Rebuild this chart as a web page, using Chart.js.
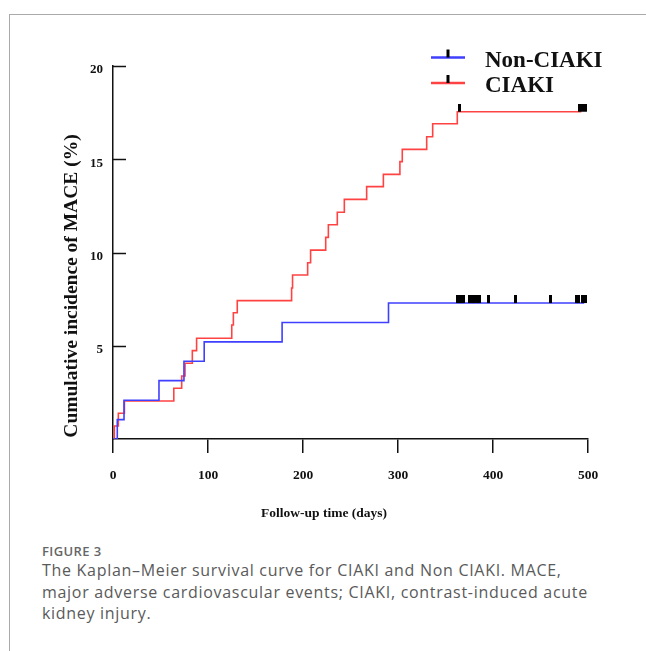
<!DOCTYPE html>
<html>
<head>
<meta charset="utf-8">
<title>Kaplan-Meier MACE</title>
<script src="https://cdn.jsdelivr.net/npm/chart.js@4.4.0/dist/chart.umd.min.js"></script>
<style>
    body { margin: 0; background: #fff; }
    #wrap { position: relative; width: 646px; height: 651px; overflow: hidden; }
    #frame { position: absolute; left: 9px; top: 14px; width: 660px; height: 660px;
             border-top: 1px solid #aaa; border-left: 1px solid #aaa; }
    #chart { position: absolute; left: 0; top: 0; }
    .caption { position: absolute; left: 42px; top: 542px; font-family: "Open Sans", sans-serif; }
    .fig { font-size: 13px; font-weight: 600; line-height: 18px; color: #666; letter-spacing: 0.4px; }
    .txt { font-size: 16px; line-height: 21.5px; color: #5a5a5a; white-space: nowrap; letter-spacing: 0.7px; }
</style>
</head>
<body>
<div id="wrap">
    <div id="frame"></div>
    <canvas id="chart" width="646" height="530"></canvas>
    <div class="caption">
        <div class="fig">FIGURE 3</div>
        <div class="txt">The Kaplan–Meier survival curve for CIAKI and Non CIAKI. MACE,</div>
        <div class="txt">major adverse cardiovascular events; CIAKI, contrast-induced acute</div>
        <div class="txt">kidney injury.</div>
    </div>
</div>
<script>
// Step curves (days, cumulative %)
const nonTimes = [0, 4.5, 11.6, 48.4, 74.7, 96, 178, 290, 496];
const nonValues = [0, 1.04, 2.08, 3.13, 4.17, 5.21, 6.25, 7.29, 7.29];

const ciakiTimes = [0, 1.4, 5.6, 12, 64, 72.3, 75.8, 83.5, 88, 125, 126.7, 130.8, 188, 189,
    204.9, 208, 223.9, 226.7, 236.1, 243.5, 267, 284.6, 302, 304.5, 330.2, 336.5, 362.4, 493];
const ciakiValues = [0, 0.7, 1.38, 2.04, 2.72, 3.38, 4.06, 4.74, 5.4, 6.11, 6.77, 7.42, 8.1, 8.79,
    9.45, 10.13, 10.81, 11.49, 12.16, 12.85, 13.53, 14.19, 14.87, 15.53, 16.21, 16.9, 17.55, 17.55];

// Censored observations (days)
const nonCensor = [363, 366, 369, 375, 378, 381, 384, 386, 395, 424, 460, 488, 490, 494, 497];
const ciakiCensor = [365, 491, 494, 497];

const seriesNames = ["Non-CIAKI", "CIAKI"];
const xTicks = [0, 100, 200, 300, 400, 500];
const yTicks = [5, 10, 15, 20];
const xTitle = "Follow-up time (days)";
const yTitle = "Cumulative incidence of MACE (%)";

const BLUE = "#3f3fff";
const RED = "#ff4343";
const INK = "#111";
const SERIF = '"Liberation Serif", "Times New Roman", serif';

// value of a step curve at time t
function valueAt(times, values, t) {
    let v = 0;
    for (let i = 0; i < times.length; i++) {
        if (times[i] <= t) v = values[i];
    }
    return v;
}

function toPoints(times, values) {
    return times.map((t, i) => ({ x: t, y: values[i] }));
}

function censorPoints(censor, times, values) {
    return censor.map(t => ({ x: t, y: valueAt(times, values, t) }));
}

// censor tick: black bar sitting on top of the line
const censorMark = document.createElement("canvas");
censorMark.width = 3;
censorMark.height = 16;
(function () {
    const c = censorMark.getContext("2d");
    c.fillStyle = "#000";
    c.fillRect(0, 0, 3, 8);
})();

// inward y ticks, axis titles and legend
const decorPlugin = {
    id: "decor",
    afterDraw(chart) {
        const ctx = chart.ctx;
        const area = chart.chartArea;
        const yScale = chart.scales.y;
        ctx.save();

        ctx.strokeStyle = INK;
        ctx.lineWidth = 1.5;
        yTicks.forEach(v => {
            const py = Math.round(yScale.getPixelForValue(v)) + 0.5;
            ctx.beginPath();
            ctx.moveTo(area.left, py);
            ctx.lineTo(area.left + 13, py);
            ctx.stroke();
        });

        ctx.fillStyle = INK;
        ctx.textAlign = "center";
        ctx.textBaseline = "middle";
        ctx.font = "bold 13.5px " + SERIF;
        ctx.fillText(xTitle, area.left + 211, area.bottom + 75);

        ctx.save();
        ctx.font = "bold 19.5px " + SERIF;
        ctx.translate(area.left - 41, area.bottom - 153);
        ctx.rotate(-Math.PI / 2);
        ctx.fillText(yTitle, 0, 0);
        ctx.restore();

        // legend
        ctx.textAlign = "left";
        ctx.textBaseline = "alphabetic";
        ctx.font = "bold 23px " + SERIF;
        seriesNames.forEach((name, i) => {
            const ly = 57.5 + i * 25.5;
            ctx.strokeStyle = chart.data.datasets[i].borderColor;
            ctx.lineWidth = 2.5;
            ctx.beginPath();
            ctx.moveTo(431, ly);
            ctx.lineTo(465, ly);
            ctx.stroke();
            ctx.fillStyle = "#000";
            ctx.fillRect(446.5, ly - 8, 3, 8);
            ctx.fillStyle = INK;
            ctx.fillText(name, 485, ly + 9);
        });
        ctx.restore();
    }
};

const ctx = document.getElementById("chart").getContext("2d");

new Chart(ctx, {
    type: "line",
    data: {
        datasets: [
            {
                label: seriesNames[0],
                data: toPoints(nonTimes, nonValues),
                borderColor: BLUE,
                borderWidth: 1.6,
                stepped: "before",
                pointRadius: 0,
                fill: false,
                order: 2
            },
            {
                label: seriesNames[1],
                data: toPoints(ciakiTimes, ciakiValues),
                borderColor: RED,
                borderWidth: 1.6,
                stepped: "before",
                pointRadius: 0,
                fill: false,
                order: 3
            },
            {
                type: "scatter",
                label: "censor-non",
                data: censorPoints(nonCensor, nonTimes, nonValues),
                pointStyle: censorMark,
                pointRadius: 4,
                order: 1
            },
            {
                type: "scatter",
                label: "censor-ciaki",
                data: censorPoints(ciakiCensor, ciakiTimes, ciakiValues),
                pointStyle: censorMark,
                pointRadius: 4,
                order: 1
            }
        ]
    },
    options: {
        responsive: false,
        animation: false,
        devicePixelRatio: 1,
        layout: { padding: { top: 66, right: 58, left: 0, bottom: 0 } },
        plugins: {
            legend: { display: false },
            tooltip: { enabled: false }
        },
        scales: {
            x: {
                type: "linear",
                min: 0,
                max: 500,
                afterBuildTicks: s => { s.ticks = xTicks.map(v => ({ value: v })); },
                afterFit: s => { s.height = 91; },
                grid: { drawOnChartArea: false, drawTicks: true, tickLength: 14, color: INK, lineWidth: 1.5 },
                border: { color: INK, width: 1.5 },
                ticks: { font: { family: SERIF, size: 13.5, weight: "bold" }, color: INK, padding: 14, maxRotation: 0 }
            },
            y: {
                type: "linear",
                min: 0,
                max: 20,
                afterBuildTicks: s => { s.ticks = yTicks.map(v => ({ value: v })); },
                afterFit: s => { s.width = 113; },
                grid: { display: false, drawTicks: false },
                border: { color: INK, width: 1.5 },
                ticks: { font: { family: SERIF, size: 13, weight: "bold" }, color: INK, padding: 10, labelOffset: 4 }
            }
        }
    },
    plugins: [decorPlugin]
});
</script>
</body>
</html>
